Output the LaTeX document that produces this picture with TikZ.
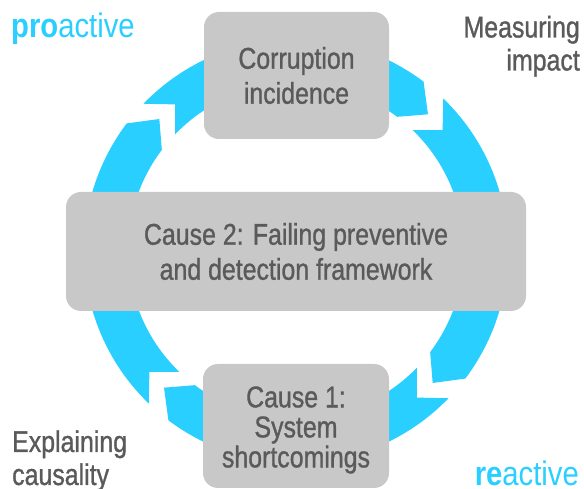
\documentclass[tikz,border=0pt]{standalone}
\usepackage{fontspec}
\setmainfont{Liberation Sans}[FakeStretch=0.83,FakeBold=1.0]
\newfontfamily\labfont{Liberation Sans}[FakeStretch=0.86]
\definecolor{ringcyan}{RGB}{40,207,255}
\definecolor{boxgray}{RGB}{200,200,200}
\definecolor{txtgray}{RGB}{90,90,90}
\begin{document}
\begin{tikzpicture}[x=1pt,y=1pt,
  box/.style={fill=boxgray, rounded corners=15pt, text=txtgray, align=center, inner sep=0pt, font=\fontsize{30pt}{35pt}\selectfont},
  seg/.style={fill=ringcyan},
  boxtext/.style={text=txtgray, align=center, inner sep=0pt, font=\fontsize{30pt}{30pt}\selectfont},
  lab/.style={text=txtgray, inner sep=0pt, font=\fontsize{30pt}{33pt}\selectfont},
  clab/.style={text=ringcyan, inner sep=0pt, font=\labfont\fontsize{34pt}{40pt}\selectfont}]
\useasboundingbox (0,0) rectangle (584,489);
\coordinate (C) at (296,238);
\foreach \s in {136,46,-44,-134} {
  \pgfmathsetmacro\e{\s-90}
  \pgfmathsetmacro\f{\s-83}
  \pgfmathsetmacro\n{\s-6.5}
  \fill[seg,shift={(C)}] (\s:212pt) arc[start angle=\s, end angle=\f, radius=212pt]
    -- (\e:190pt) -- (\f:168pt) arc[start angle=\f, end angle=\s, radius=168pt]
    -- (\n:190pt) -- cycle;
}
\node[box, minimum width=185pt, minimum height=127pt] (top) at (296.5,413.5) {Corruption\\incidence};
\node[box, minimum width=460pt, minimum height=119pt] (mid) at (296,237.5) {Cause 2: Failing preventive\\and detection framework};
\node[box, minimum width=186pt, minimum height=124pt] (bot) at (296,63) {};
\node[boxtext] (botlbl) at ([yshift=-4pt]bot.center) {Cause 1:\\System\\shortcomings};
\node[clab, anchor=base west] (pro) at (11,451) {\textbf{pro}active};
\node[lab, anchor=base east, align=right] (meas) at (580,418.5) {Measuring\\impact};
\node[lab, anchor=base west, align=left] (expl) at (12,4) {Explaining\\causality};
\node[clab, anchor=base east] (re) at (579,3) {\textbf{re}active};
\end{tikzpicture}
\end{document}
